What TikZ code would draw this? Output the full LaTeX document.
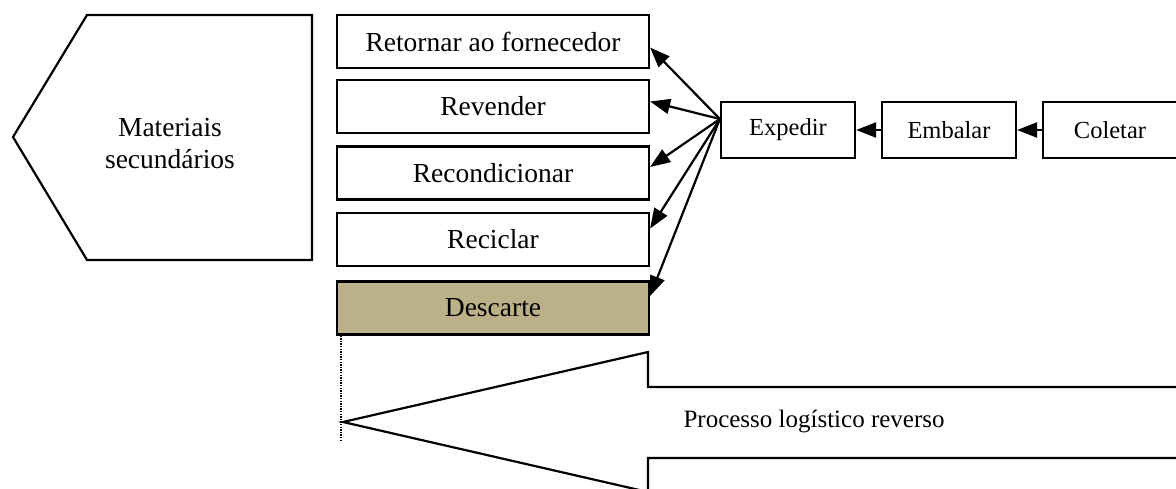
\documentclass[tikz,border=0pt]{standalone}
\usepackage{fontspec}
\setmainfont{Liberation Serif}
\usetikzlibrary{arrows.meta}
\definecolor{descartefill}{RGB}{188,176,136}
\tikzset{
  outline/.style={draw=black, line width=2.2pt},
  destbox/.style={outline, fill=white, minimum width=312pt, minimum height=53pt,
    inner sep=0pt, font=\fontsize{27.5}{32}\selectfont},
  stepbox/.style={outline, fill=white, minimum width=134pt, minimum height=56pt,
    inner sep=0pt, font=\fontsize{24.5}{28}\selectfont},
  flow/.style={line width=2.2pt, -{Triangle[length=20pt,width=15pt]}},
}
\begin{document}
\begin{tikzpicture}[x=1pt,y=-1pt]
  \useasboundingbox (0,0) rectangle (1176,488);
  \clip (0,0) rectangle (1176,488);

  % secondary materials block (pentagon pointing left)
  \draw[outline] (13,137) -- (87,15) -- (312,15) -- (312,260) -- (87,260) -- cycle;
  \node[align=center, font=\fontsize{27.5}{32}\selectfont] (mat) at (170,144)
    {Materiais\\secundários};

  % destinations
  \node[destbox] (r1) at (493,41.5) {Retornar ao fornecedor};
  \node[destbox] (r2) at (493,106.5) {Revender};
  \node[destbox] (r3) at (493,173) {Recondicionar};
  \node[destbox] (r4) at (493,239.5) {Reciclar};
  \node[destbox, fill=descartefill] (r5) at (493,308) {Descarte};

  % reverse chain
  \node[stepbox] (exp) at (788,130) {Expedir};
  \node[stepbox] (emb) at (949,130) {Embalar};
  \node[stepbox] (col) at (1110,130) {Coletar};

  \draw[flow] (emb.west) -- (exp.east);
  \draw[flow] (col.west) -- (emb.east);

  % fan-out from the shipping step
  \coordinate (hub) at ([yshift=11pt]exp.west);
  \draw[flow] (hub) -- ([yshift=-6pt]r1.east);
  \draw[flow] (hub) -- ([yshift=5pt]r2.east);
  \draw[flow] (hub) -- ([yshift=6pt]r3.east);
  \draw[flow] (hub) -- ([yshift=11pt]r4.east);
  \draw[flow] (hub) -- ([yshift=12pt]r5.east);

  % reverse logistics arrow
  \draw[outline] (343,422) -- (648,352) -- (648,387) -- (1190,387)
    -- (1190,458) -- (648,458) -- (648,492) -- cycle;
  \node[anchor=west, font=\fontsize{25}{30}\selectfont] (proc) at (680,421)
    {Processo logístico reverso};

  % dotted guide below the discard box
  \coordinate (tip) at (341,442);
  \draw[line width=1.3pt, dash pattern=on 1.3pt off 1.3pt] (tip |- r5.south) -- (tip);
\end{tikzpicture}
\end{document}
